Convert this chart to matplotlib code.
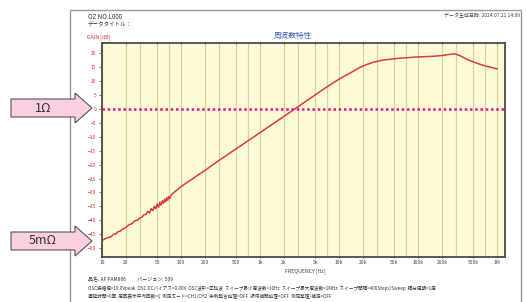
import numpy as np
import matplotlib.pyplot as plt
from matplotlib.patches import Polygon, Rectangle

plt.rcParams['font.family'] = ['Noto Sans CJK JP', 'DejaVu Sans']

# Datos (frecuencia en Hz, ganancia en dB)
freq = [10, 11, 12, 13, 14, 15, 16, 17, 18, 20, 22, 24, 26, 28, 30, 32, 34, 36, 38,
        40, 42, 44, 46, 48, 50, 52, 54, 56, 58, 60, 62, 64, 66, 68, 70, 72, 75, 80, 90,
        100, 150, 200, 300, 500, 700, 1e3, 1.5e3, 2e3, 3e3, 5e3, 7e3, 1e4, 1.4e4,
        1.8e4, 2.2e4, 2.8e4, 3.5e4, 4.8e4, 7e4, 1e5, 1.5e5, 2e5, 2.5e5, 2.8e5, 3e5,
        3.3e5, 3.7e5, 4.2e5, 5e5, 6e5, 7e5, 8.5e5, 1e6]
gain = [-47.3, -46.6, -46.2, -45.9, -45.0, -44.9, -44.1, -43.9, -43.3, -42.6, -41.6,
        -41.2, -40.2, -40.0, -39.2, -38.9, -38.0, -37.9, -36.8, -37.4, -35.8, -36.5,
        -35.0, -35.9, -34.2, -35.3, -33.5, -34.6, -33.0, -33.9, -32.4, -33.4, -31.9,
        -32.8, -31.5, -32.2, -30.9, -30.2, -29.0, -27.9, -24.5, -22.1, -18.6, -14.3,
        -11.5, -8.5, -5.1, -2.7, 0.75, 5.06, 7.9, 10.7, 13.0, 14.8, 15.9, 16.9, 17.5,
        18.0, 18.4, 18.7, 18.9, 19.2, 19.6, 19.8, 19.7, 19.3, 18.6, 17.8, 16.9, 16.1,
        15.5, 14.9, 14.4]

yticks = [20, 15, 10, 5, 0, -5, -10, -15, -20, -25, -30, -35, -40, -45, -50]
xticks = [10, 20, 50, 100, 200, 500, 1e3, 2e3, 5e3, 1e4, 2e4, 5e4, 1e5, 2e5, 5e5, 1e6]
xlabels = ["10", "20", "50", "100", "200", "500", "1k", "2k", "5k", "10k", "20k",
           "50k", "100k", "200k", "500k", "1M"]

W, H = 526, 302
fig = plt.figure(figsize=(W/100, H/100), dpi=100)


def fx(x):
    return x / W


def fy(y):
    return 1 - y / H


# Hoja blanca del informe
fig.patches.append(Rectangle((fx(70), fy(305)), fx(521) - fx(70), fy(10) - fy(305),
                             transform=fig.transFigure, facecolor='white',
                             edgecolor='#9a9a9a', lw=1.0, zorder=-10))

ax = fig.add_axes([fx(102), fy(257), fx(505) - fx(102), fy(43) - fy(257)])
ax.set_facecolor('#fdfbd8')

# Lineas verticales de la reticula (1, 2, 3, 5, 7 por decada)
grid_x = [m * 10**d for d in range(1, 7) for m in (1, 2, 3, 5, 7) if m * 10**d <= 1e6]
for gx in grid_x:
    ax.axvline(gx, color='#d8d4a4', lw=0.9, zorder=1)

ax.plot(freq, gain, color='#d83c3c', lw=1.1, zorder=3)
ax.axhline(0, color='#e8137f', lw=1.8, ls=(0, (1, 1.1)), zorder=4)

ax.set_xscale('log')
ax.set_xlim(10, 1.26e6)
ax.set_ylim(-53.2, 23.7)

ax.set_xticks(xticks)
ax.set_xticklabels(xlabels)
ax.xaxis.set_minor_locator(plt.NullLocator())
ax.set_yticks(yticks)
ax.tick_params(axis='x', labelsize=3.6, colors='#444444', length=2, width=0.6,
               pad=1.5, top=True, direction='inout')
ax.tick_params(axis='y', labelsize=3.6, labelcolor='#e03030', color='#e03030',
               length=2, width=0.6, pad=2)
for s in ax.spines.values():
    s.set_color('#4a4a4a')
    s.set_linewidth(1.3)

# Textos del informe
fig.text(fx(88), fy(17), "OZ NO.L000", fontsize=4.5, color='#333333', va='center')
fig.text(fx(88), fy(25), "データタイトル：", fontsize=4, color='#333333', va='center')
fig.text(fx(87), fy(37), "GAIN [dB]", fontsize=3.8, color='#e03030', va='center')
fig.text(fx(520), fy(16), "データ生成日時: 2024.07.21 14:09", fontsize=3.6,
         color='#444444', va='center', ha='right')
fig.text(fx(293), fy(36), "周波数特性", fontsize=5.5, color='#4060b0', va='center',
         ha='center')
fig.text(fx(305), fy(271), "FREQUENCY [Hz]", fontsize=3.8, color='#444444',
         va='center', ha='center')
fig.text(fx(88), fy(280), "品名: AF PAM806          バージョン: 509", fontsize=3.6,
         color='#333333', va='center')
fig.text(fx(88), fy(288),
         "OSC振幅値=10.0Vpeak  OSC DCバイアス=0.00V  OSC波形=正弦波  "
         "スイープ最小周波数=10Hz  スイープ最大周波数=1MHz  スイープ間隔=400Steps/Sweep  積分周期=1周",
         fontsize=3.3, color='#333333', va='center')
fig.text(fx(88), fy(296),
         "遅延時間=0回  周回表示平均回数=1  測定モード=CH1/CH2  余剰整合処理=OFF  "
         "領域補間処理=OFF  測定整理/補足=OFF",
         fontsize=3.3, color='#333333', va='center')


# Flechas de anotacion
def arrow(yc, label):
    pts = [(11, yc - 9), (75, yc - 9), (75, yc - 15), (92, yc), (75, yc + 15),
           (75, yc + 9), (11, yc + 9)]
    fig.patches.append(Polygon([(fx(x), fy(y)) for x, y in pts], closed=True,
                               transform=fig.transFigure, facecolor='#f9cfe1',
                               edgecolor='#555555', lw=0.8, zorder=5))
    fig.text(fx(43), fy(yc), label, fontsize=9, color='#333333', ha='center',
             va='center', zorder=6)


arrow(108, "1Ω")
arrow(241, "5mΩ")

plt.savefig("out.png", dpi=100)
